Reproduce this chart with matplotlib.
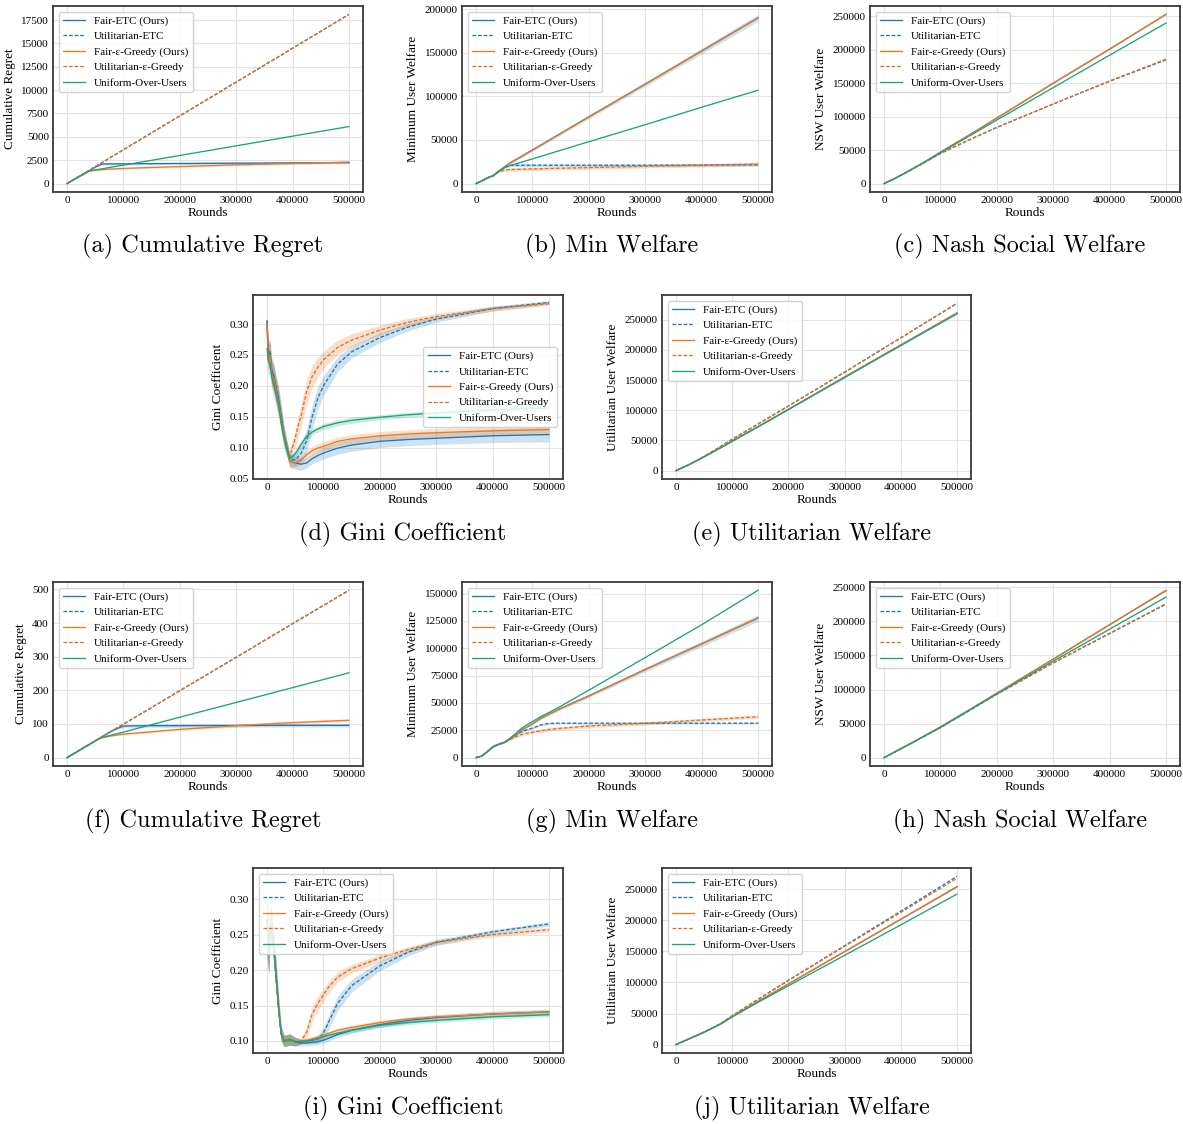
import matplotlib
matplotlib.use("Agg")
import matplotlib.pyplot as plt
from matplotlib.ticker import MultipleLocator, ScalarFormatter

plt.rcParams['font.family'] = ['Liberation Serif', 'DejaVu Serif']
plt.rcParams['mathtext.fontset'] = 'stix'

LABELS = ["Fair-ETC (Ours)", "Utilitarian-ETC", "Fair-\u03b5-Greedy (Ours)",
          "Utilitarian-\u03b5-Greedy", "Uniform-Over-Users"]
XTICKS = [0, 100000, 200000, 300000, 400000, 500000]

# ---------------- (a) Cumulative regret, setting 1 ----------------
A_X = [0, 20000, 40000, 50000, 60000, 65000, 80000, 100000, 150000, 200000, 300000, 400000, 500000]
A_FETC = [0, 720, 1400, 1750, 2050, 2100, 2100, 2110, 2130, 2150, 2180, 2210, 2240]
A_UETC = [0, 720, 1450, 1810, 2170, 2350, 2900, 3620, 5430, 7240, 10860, 14480, 18100]
A_FEPS = [0, 690, 1350, 1420, 1480, 1500, 1560, 1620, 1720, 1820, 2000, 2150, 2300]
A_UEPS = [0, 720, 1450, 1810, 2170, 2350, 2900, 3620, 5430, 7240, 10860, 14480, 18100]
A_UNI = [0, 690, 1350, 1453, 1557, 1608, 1763, 1970, 2487, 3003, 4037, 5070, 6100]
A_FETC_SD = [0, 10, 20, 30, 80, 120, 120, 120, 120, 120, 120, 120, 120]
A_FEPS_SD = [0, 10, 20, 40, 60, 70, 80, 80, 90, 90, 100, 100, 110]

# ---------------- (b) Minimum welfare, setting 1 ----------------
B_X = [0, 10000, 20000, 30000, 40000, 50000, 60000, 100000, 200000, 300000, 400000, 500000]
B_FETC = [0, 3000, 6500, 9000, 14000, 19000, 23500, 38500, 76500, 114000, 152000, 190000]
B_UETC = [0, 3000, 6500, 9000, 14000, 18500, 21000, 21000, 21000, 21000, 21200, 21500]
B_FEPS = [0, 3000, 6500, 9000, 14000, 19000, 23500, 38500, 76500, 114000, 152000, 190000]
B_UEPS = [0, 3000, 6500, 9000, 13500, 15500, 16000, 16800, 18300, 19800, 21000, 22500]
B_UNI = [0, 3000, 6500, 9000, 14000, 18000, 20500, 28300, 48000, 67500, 87500, 107000]
B_FETC_SD = [0, 300, 500, 700, 800, 1000, 1200, 1500, 2000, 2500, 3200, 4000]
B_UETC_SD = [0, 300, 500, 700, 800, 1000, 1500, 1500, 1500, 1500, 1500, 1500]
B_UEPS_SD = [0, 300, 500, 700, 1000, 1500, 2000, 2000, 2000, 2000, 2000, 2000]

# ---------------- (c) Nash social welfare, setting 1 ----------------
C_X = [0, 20000, 40000, 60000, 80000, 100000, 150000, 200000, 300000, 400000, 500000]
C_FETC = [0, 8000, 17000, 26500, 36500, 47000, 72000, 98000, 150000, 201000, 253000]
C_UETC = [0, 8000, 17000, 26000, 35500, 45000, 65000, 84000, 119000, 153000, 185000]
C_FEPS = [0, 8000, 17000, 26500, 36500, 47000, 72000, 98000, 150000, 201000, 253000]
C_UEPS = [0, 8000, 17000, 26000, 35500, 45000, 65000, 84000, 119000, 153500, 186000]
C_UNI = [0, 8000, 17000, 26500, 36000, 46000, 70500, 95000, 143500, 192000, 240000]

# ---------------- (d) Gini coefficient, setting 1 ----------------
D_X = [0, 2000, 5000, 8000, 12000, 16000, 20000, 25000, 30000, 35000, 40000, 45000, 50000,
       55000, 60000, 70000, 80000, 90000, 100000, 125000, 150000, 200000, 250000, 300000,
       400000, 500000]
D_FETC = [0.305, 0.25, 0.255, 0.225, 0.215, 0.195, 0.18, 0.15, 0.12, 0.10,
          0.078, 0.076, 0.075, 0.074, 0.073, 0.075, 0.082, 0.087, 0.091, 0.099, 0.104,
          0.110, 0.113, 0.115, 0.119, 0.121]
D_UETC = [0.305, 0.25, 0.255, 0.225, 0.215, 0.195, 0.18, 0.15, 0.12, 0.10,
          0.080, 0.080, 0.080, 0.085, 0.090, 0.110, 0.150, 0.180, 0.200, 0.235, 0.255,
          0.278, 0.295, 0.308, 0.325, 0.335]
D_FEPS = [0.30, 0.245, 0.25, 0.22, 0.21, 0.19, 0.175, 0.145, 0.118, 0.098,
          0.078, 0.076, 0.075, 0.077, 0.080, 0.088, 0.095, 0.099, 0.102, 0.110, 0.114,
          0.119, 0.122, 0.124, 0.127, 0.129]
D_UEPS = [0.30, 0.245, 0.25, 0.22, 0.21, 0.19, 0.175, 0.145, 0.118, 0.098,
          0.086, 0.100, 0.115, 0.135, 0.150, 0.190, 0.215, 0.230, 0.242, 0.262, 0.274,
          0.290, 0.303, 0.312, 0.325, 0.333]
D_UNI = [0.26, 0.24, 0.235, 0.215, 0.20, 0.185, 0.17, 0.14, 0.115, 0.097,
         0.083, 0.085, 0.090, 0.097, 0.105, 0.118, 0.125, 0.130, 0.134, 0.140, 0.144,
         0.149, 0.153, 0.156, 0.161, 0.164]
D_FETC_SD = [0.01, 0.02, 0.02, 0.02, 0.02, 0.02, 0.02, 0.018, 0.015, 0.012,
             0.010, 0.010, 0.010, 0.010, 0.010, 0.008, 0.008, 0.009, 0.010, 0.010, 0.010,
             0.010, 0.010, 0.010, 0.011, 0.012]
D_UETC_SD = [0.01, 0.02, 0.02, 0.02, 0.02, 0.02, 0.02, 0.018, 0.015, 0.012,
             0.010, 0.010, 0.010, 0.012, 0.014, 0.018, 0.020, 0.018, 0.016, 0.012, 0.010,
             0.008, 0.006, 0.005, 0.004, 0.003]
D_FEPS_SD = [0.01, 0.02, 0.02, 0.02, 0.02, 0.02, 0.02, 0.018, 0.015, 0.012,
             0.010, 0.008, 0.007, 0.007, 0.007, 0.007, 0.007, 0.007, 0.007, 0.007, 0.007,
             0.007, 0.007, 0.007, 0.007, 0.007]
D_UEPS_SD = [0.01, 0.02, 0.02, 0.02, 0.02, 0.02, 0.02, 0.018, 0.015, 0.012,
             0.010, 0.012, 0.014, 0.016, 0.018, 0.020, 0.018, 0.016, 0.014, 0.012, 0.010,
             0.008, 0.006, 0.005, 0.004, 0.003]
D_UNI_SD = [0.01, 0.02, 0.02, 0.02, 0.02, 0.02, 0.02, 0.018, 0.015, 0.012,
            0.008, 0.006, 0.006, 0.006, 0.006, 0.006, 0.005, 0.005, 0.005, 0.005, 0.005,
            0.004, 0.004, 0.004, 0.004, 0.004]

# ---------------- (e) Utilitarian welfare, setting 1 ----------------
E_X = [0, 20000, 40000, 60000, 80000, 100000, 150000, 200000, 300000, 400000, 500000]
E_FETC = [0, 8500, 18000, 28000, 38500, 49000, 75000, 101500, 155000, 208000, 261000]
E_UETC = [0, 8500, 18000, 29000, 40500, 52000, 79500, 107000, 163000, 220000, 277000]
E_FEPS = [0, 8500, 18000, 28000, 38500, 49000, 75000, 101500, 155000, 208000, 261000]
E_UEPS = [0, 8500, 18000, 29000, 40500, 52000, 79500, 107000, 163000, 220000, 277000]
E_UNI = [0, 8500, 18000, 28000, 38000, 48500, 74500, 101000, 154000, 207000, 259500]

# ---------------- (f) Cumulative regret, setting 2 ----------------
F_X = [0, 30000, 60000, 80000, 100000, 150000, 200000, 300000, 400000, 500000]
F_FETC = [0, 30, 60, 80, 94, 95, 95, 95.5, 96, 96]
F_UETC = [0, 30, 60, 80, 99.5, 149, 199, 298, 398, 497]
F_FEPS = [0, 30, 59, 65, 70, 77, 84, 95, 104, 111]
F_UEPS = [0, 30, 60, 80, 99.5, 149, 199, 298, 398, 497]
F_UNI = [0, 30, 59, 67.5, 76, 98, 120, 164, 208, 252]
F_FETC_SD = [0, 0, 0, 2, 4, 5, 5, 5, 5, 5]
F_FEPS_SD = [0, 0, 1, 2, 3, 3, 4, 4, 4, 4]

# ---------------- (g) Minimum welfare, setting 2 ----------------
G_X = [0, 10000, 20000, 30000, 40000, 50000, 60000, 70000, 80000, 90000, 100000, 115000,
       130000, 150000, 200000, 300000, 400000, 500000]
G_FETC = [0, 1500, 5500, 10000, 12200, 14000, 17300, 21000, 25000, 28000, 31000, 36000,
          40000, 45000, 56500, 80600, 104000, 127700]
G_UETC = [0, 1500, 5500, 10000, 12200, 14000, 17000, 20500, 23500, 25500, 27000, 30000,
          31300, 31500, 31500, 31500, 31500, 31500]
G_FEPS = [0, 1500, 5500, 10000, 12200, 14000, 17300, 21000, 25000, 28000, 31000, 36000,
          40000, 45000, 56500, 80600, 104000, 127700]
G_UEPS = [0, 1500, 5500, 10000, 12200, 14000, 16500, 19000, 21000, 22300, 23200, 24600,
          25800, 26800, 29000, 31300, 34400, 37400]
G_UNI = [0, 1500, 5500, 10000, 12200, 14000, 17600, 22000, 26500, 30000, 33000, 37500,
         41500, 47000, 61700, 91500, 121500, 153000]
G_FETC_SD = [0, 200, 300, 500, 500, 600, 700, 800, 900, 1000, 1000, 1100, 1200, 1300,
             1500, 2000, 2500, 3000]
G_UETC_SD = [0, 200, 300, 500, 500, 600, 700, 800, 900, 900, 900, 800, 800, 800, 800,
             800, 800, 800]
G_UEPS_SD = [0, 200, 300, 500, 500, 600, 800, 1000, 1200, 1300, 1400, 1500, 1500, 1500,
             1500, 1500, 1500, 1500]

# ---------------- (h) Nash social welfare, setting 2 ----------------
H_X = [0, 50000, 100000, 150000, 200000, 300000, 400000, 500000]
H_FETC = [0, 22000, 45000, 69500, 94500, 144500, 195000, 245000]
H_UETC = [0, 22000, 44000, 68500, 93000, 139000, 182000, 225000]
H_FEPS = [0, 22000, 45000, 69500, 94500, 144500, 195000, 245500]
H_UEPS = [0, 22000, 44000, 68500, 93000, 139000, 182500, 226000]
H_UNI = [0, 22000, 44500, 69000, 93500, 141500, 188500, 235500]

# ---------------- (i) Gini coefficient, setting 2 ----------------
I_X = [0, 3000, 5000, 8000, 10000, 13000, 16000, 20000, 25000, 30000, 40000, 50000, 60000,
       70000, 80000, 90000, 100000, 110000, 125000, 150000, 200000, 250000, 300000, 400000,
       500000]
I_FETC = [0.27, 0.225, 0.26, 0.265, 0.245, 0.22, 0.19, 0.15, 0.11, 0.10, 0.102, 0.099,
          0.097, 0.097, 0.098, 0.099, 0.101, 0.104, 0.109, 0.115, 0.123, 0.129, 0.133,
          0.138, 0.141]
I_UETC = [0.27, 0.225, 0.26, 0.265, 0.245, 0.22, 0.19, 0.15, 0.11, 0.10, 0.102, 0.099,
          0.099, 0.100, 0.101, 0.103, 0.111, 0.128, 0.153, 0.178, 0.206, 0.225, 0.239,
          0.254, 0.265]
I_FEPS = [0.27, 0.225, 0.26, 0.265, 0.245, 0.22, 0.19, 0.15, 0.11, 0.10, 0.102, 0.099,
          0.100, 0.101, 0.103, 0.105, 0.108, 0.111, 0.115, 0.119, 0.126, 0.131, 0.134,
          0.138, 0.141]
I_UEPS = [0.27, 0.225, 0.26, 0.265, 0.245, 0.22, 0.19, 0.15, 0.11, 0.10, 0.102, 0.099,
          0.100, 0.112, 0.138, 0.153, 0.165, 0.177, 0.190, 0.202, 0.217, 0.229, 0.239,
          0.250, 0.257]
I_UNI = [0.27, 0.225, 0.26, 0.265, 0.245, 0.22, 0.19, 0.15, 0.11, 0.10, 0.102, 0.099,
         0.099, 0.100, 0.101, 0.103, 0.106, 0.108, 0.111, 0.115, 0.122, 0.126, 0.129,
         0.134, 0.137]
I_EARLY_SD = [0.05, 0.03, 0.03, 0.02, 0.02, 0.02, 0.02, 0.015, 0.01, 0.008, 0.008, 0.006]
I_FETC_SD = I_EARLY_SD + [0.004, 0.004, 0.004, 0.004, 0.004, 0.004, 0.004, 0.004, 0.004,
                          0.004, 0.004, 0.004, 0.004]
I_UETC_SD = I_EARLY_SD + [0.003, 0.003, 0.004, 0.006, 0.008, 0.010, 0.010, 0.009, 0.007,
                          0.005, 0.004, 0.003, 0.003]
I_FEPS_SD = I_EARLY_SD + [0.003, 0.003, 0.003, 0.003, 0.003, 0.003, 0.003, 0.003, 0.003,
                          0.003, 0.003, 0.003, 0.003]
I_UEPS_SD = I_EARLY_SD + [0.004, 0.008, 0.010, 0.010, 0.009, 0.008, 0.007, 0.006, 0.005,
                          0.004, 0.004, 0.003, 0.003]
I_UNI_SD = I_EARLY_SD + [0.003, 0.003, 0.003, 0.003, 0.003, 0.003, 0.003, 0.003, 0.003,
                         0.003, 0.003, 0.003, 0.003]

# ---------------- (j) Utilitarian welfare, setting 2 ----------------
J_X = [0, 50000, 80000, 100000, 150000, 200000, 300000, 400000, 500000]
J_FETC = [0, 20000, 33500, 45000, 71500, 97500, 149500, 201500, 254000]
J_UETC = [0, 20000, 34000, 46500, 75000, 103500, 159000, 214500, 270500]
J_FEPS = [0, 20000, 33500, 45000, 71500, 97500, 149500, 201500, 253500]
J_UEPS = [0, 20000, 34000, 46500, 75000, 103000, 158000, 212500, 267500]
J_UNI = [0, 20000, 33500, 44500, 70000, 94500, 143500, 192500, 242000]

CAPTIONS = ["(a) Cumulative Regret", "(b) Min Welfare", "(c) Nash Social Welfare",
            "(d) Gini Coefficient", "(e) Utilitarian Welfare",
            "(f) Cumulative Regret", "(g) Min Welfare", "(h) Nash Social Welfare",
            "(i) Gini Coefficient", "(j) Utilitarian Welfare"]
YLABELS = ["Cumulative Regret", "Minimum User Welfare", "NSW User Welfare",
           "Gini Coefficient", "Utilitarian User Welfare",
           "Cumulative Regret", "Minimum User Welfare", "NSW User Welfare",
           "Gini Coefficient", "Utilitarian User Welfare"]

BLUE = '#1f77b4'
ORANGE = '#ef7a1e'
DORANGE = '#e0701f'
GREEN = '#1aa37f'

W, H = 1183, 1124
fig = plt.figure(figsize=(W / 100, H / 100), dpi=100)

BOXES = [(53, 6, 363, 192), (462, 6, 772, 192), (870, 6, 1180, 192),
         (253, 295, 563, 479), (662, 295, 971, 479),
         (53, 582, 363, 766), (462, 582, 772, 766), (870, 582, 1180, 766),
         (253, 868, 563, 1053), (662, 868, 971, 1053)]
CAP_POS = [(203, 246), (612, 246), (1020, 246), (403, 534), (812, 534),
           (203, 821), (612, 821), (1020, 821), (403, 1108), (812, 1108)]
YSTEP = [2500, 50000, 50000, 0.05, 50000, 100, 25000, 50000, 0.05, 50000]
YLIMS = [None, None, None, (0.049, 0.347), None, None, None, None, (0.083, 0.344), None]
LEG_LOC = ['upper left', 'upper left', 'upper left', 'center right', 'upper left',
           'upper left', 'upper left', 'upper left', 'upper left', 'upper left']

PANELS = [
    (A_X, [A_FETC, A_UETC, A_FEPS, A_UEPS, A_UNI], [A_FETC_SD, None, A_FEPS_SD, None, None]),
    (B_X, [B_FETC, B_UETC, B_FEPS, B_UEPS, B_UNI], [B_FETC_SD, B_UETC_SD, None, B_UEPS_SD, None]),
    (C_X, [C_FETC, C_UETC, C_FEPS, C_UEPS, C_UNI], [None, None, None, None, None]),
    (D_X, [D_FETC, D_UETC, D_FEPS, D_UEPS, D_UNI], [D_FETC_SD, D_UETC_SD, D_FEPS_SD, D_UEPS_SD, D_UNI_SD]),
    (E_X, [E_FETC, E_UETC, E_FEPS, E_UEPS, E_UNI], [None, None, None, None, None]),
    (F_X, [F_FETC, F_UETC, F_FEPS, F_UEPS, F_UNI], [F_FETC_SD, None, F_FEPS_SD, None, None]),
    (G_X, [G_FETC, G_UETC, G_FEPS, G_UEPS, G_UNI], [G_FETC_SD, G_UETC_SD, None, G_UEPS_SD, None]),
    (H_X, [H_FETC, H_UETC, H_FEPS, H_UEPS, H_UNI], [None, None, None, None, None]),
    (I_X, [I_FETC, I_UETC, I_FEPS, I_UEPS, I_UNI], [I_FETC_SD, I_UETC_SD, I_FEPS_SD, I_UEPS_SD, I_UNI_SD]),
    (J_X, [J_FETC, J_UETC, J_FEPS, J_UEPS, J_UNI], [None, None, None, None, None]),
]
COLORS = [BLUE, BLUE, ORANGE, DORANGE, GREEN]
STYLES = ['-', (0, (2.8, 1.4)), '-', (0, (2.8, 1.4)), '-']

for k, (x, ys, sds) in enumerate(PANELS):
    l, t, r, b = BOXES[k]
    ax = fig.add_axes([l / W, 1 - b / H, (r - l) / W, (b - t) / H])
    for y, sd, lab, c, ls in zip(ys, sds, LABELS, COLORS, STYLES):
        if sd is not None:
            lo = [v - s for v, s in zip(y, sd)]
            hi = [v + s for v, s in zip(y, sd)]
            ax.fill_between(x, lo, hi, color=c, alpha=0.22, linewidth=0)
        ax.plot(x, y, color=c, ls=ls, lw=0.95, label=lab)
    ax.set_xticks(XTICKS)
    ax.yaxis.set_major_locator(MultipleLocator(YSTEP[k]))
    if YLIMS[k] is not None:
        ax.set_ylim(*YLIMS[k])
    fmt = ScalarFormatter(useOffset=False)
    fmt.set_scientific(False)
    ax.yaxis.set_major_formatter(fmt)
    if YSTEP[k] == 0.05:
        ax.yaxis.set_major_formatter(plt.FormatStrFormatter('%.2f'))
    ax.xaxis.set_major_formatter(plt.FormatStrFormatter('%d'))
    ax.grid(True, color='#e3e3e3', lw=0.8)
    ax.set_axisbelow(True)
    for sp in ax.spines.values():
        sp.set_color('#3a3a3a')
        sp.set_linewidth(1.3)
    ax.tick_params(length=0, pad=3, labelsize=8)
    ax.set_xlabel('Rounds', fontsize=9.5, labelpad=1)
    ax.set_ylabel(YLABELS[k], fontsize=9.5, labelpad=4)
    ax.legend(loc=LEG_LOC[k], fontsize=8, frameon=True, edgecolor='#cccccc', framealpha=0.85)
    cx, cy = CAP_POS[k]
    fig.text(cx / W, 1 - cy / H, CAPTIONS[k], fontfamily='cmr10', fontsize=17.5,
             ha='center', va='center')

fig.savefig('out.png', dpi=100)
